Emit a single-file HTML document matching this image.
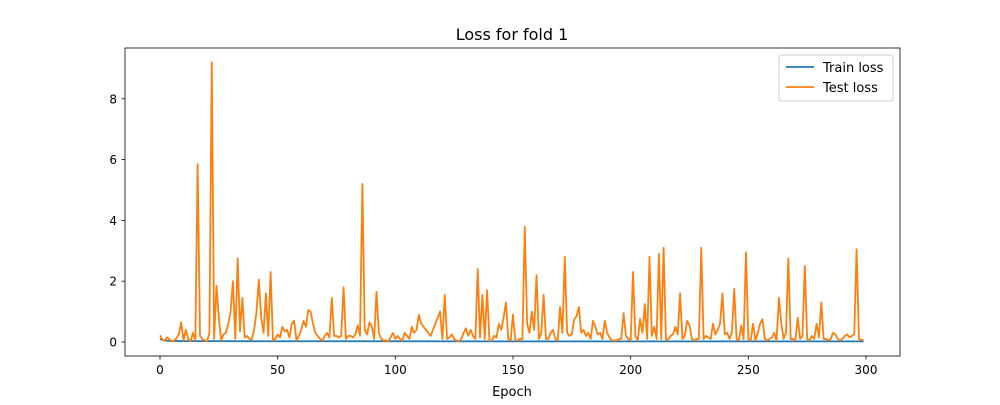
<!DOCTYPE html>
<html><head><meta charset="utf-8"><style>
body{margin:0;background:#fff;font-family:"Liberation Sans","DejaVu Sans",sans-serif}
svg text{font-family:"DejaVu Sans","Liberation Sans",sans-serif;fill:#000}
</style></head><body>
<svg id="chart" width="1000" height="400" xmlns="http://www.w3.org/2000/svg">
<rect width="1000" height="400" fill="#fff"/>
<text x="512" y="40" font-size="16" text-anchor="middle">Loss for fold 1</text>
<g id="plot"></g>
<rect x="125" y="48" width="775" height="308" fill="none" stroke="#000" stroke-width="0.8"/>
<text x="512" y="396" font-size="13" text-anchor="middle">Epoch</text>
<g>
<rect x="779" y="55" width="114" height="46" rx="3" fill="#fff" stroke="#ccc" stroke-width="1"/>
<line x1="786" y1="67" x2="814" y2="67" stroke="#1f77b4" stroke-width="1.8"/>
<text x="823" y="72" font-size="13">Train loss</text>
<line x1="786" y1="87" x2="814" y2="87" stroke="#ff7f0e" stroke-width="1.8"/>
<text x="823" y="92" font-size="13">Test loss</text>
</g>
</svg>
<script>
const xTicks=[0,50,100,150,200,250,300];
const yTicks=[0,2,4,6,8];
const trainEpochs=[0,1,2,3,5,10,20,40,80,150,220,299];
const trainLoss=[0.1,0.07,0.05,0.04,0.035,0.03,0.03,0.025,0.025,0.02,0.02,0.02];
const testLoss=[
0.22,0.08,0.05,0.15,0.1,0.02,0.05,0.12,0.25,0.65,
0.05,0.4,0.1,0.02,0.3,0.05,5.85,0.2,0.1,0.05,
0.02,0.3,9.2,0.1,1.85,0.8,0.05,0.25,0.3,0.6,
1.0,2.0,0.1,2.75,0.35,1.45,0.15,0.2,0.1,0.08,
0.4,1.0,2.05,0.8,0.3,1.6,0.2,2.3,0.05,0.1,
0.25,0.15,0.5,0.35,0.4,0.15,0.6,0.7,0.05,0.2,
0.4,0.7,0.5,1.05,1.0,0.6,0.3,0.2,0.1,0.05,
0.2,0.3,0.15,1.45,0.2,0.2,0.15,0.2,1.8,0.1,
0.2,0.2,0.15,0.25,0.55,0.2,5.2,0.4,0.25,0.65,
0.5,0.1,1.65,0.3,0.1,0.05,0.05,0.02,0.15,0.3,
0.1,0.2,0.1,0.05,0.3,0.2,0.1,0.5,0.3,0.4,
0.9,0.6,0.5,0.4,0.3,0.2,0.4,0.6,0.8,1.0,
0.1,1.55,0.1,0.15,0.25,0.1,0.05,0.02,0.1,0.3,
0.45,0.2,0.4,0.2,0.1,2.4,0.15,1.55,0.1,1.7,
0.05,0.05,0.2,0.15,0.6,0.4,0.8,1.3,0.1,0.05,
0.9,0.05,0.05,0.1,0.1,3.8,0.6,0.3,1.0,0.4,
2.2,0.1,0.3,1.55,0.1,0.1,0.3,0.4,0.1,0.05,
1.15,0.3,2.8,0.3,0.2,0.25,0.75,0.85,1.15,0.3,
0.4,0.2,0.3,0.1,0.7,0.5,0.25,0.3,0.1,0.7,
0.3,0.15,0.05,0.05,0.05,0.1,0.1,0.95,0.2,0.1,
0.05,2.3,0.2,0.05,0.75,0.3,1.25,0.1,2.8,0.2,
0.5,0.1,2.9,0.1,3.1,0.05,0.1,0.2,0.25,0.5,
0.25,1.6,0.1,0.2,0.7,0.55,0.1,0.05,0.1,0.1,
3.1,0.1,0.2,0.15,0.1,0.6,0.25,0.4,0.6,1.6,
0.25,0.3,0.1,0.3,1.75,0.1,0.05,0.55,0.1,2.95,
0.1,0.05,0.6,0.05,0.3,0.6,0.75,0.1,0.05,0.1,
0.15,0.3,0.05,1.45,0.6,0.1,0.3,2.75,0.1,0.1,
0.05,0.8,0.1,0.2,2.5,0.1,0.05,0.2,0.1,0.6,
0.15,1.3,0.1,0.1,0.05,0.1,0.3,0.25,0.1,0.05,
0.1,0.2,0.25,0.15,0.2,0.25,3.05,0.1,0.08,0.05];
const NS="http://www.w3.org/2000/svg";
const X0=160,X1=866,Y0=342,PPU=30.4;
function xs(v){return X0+(X1-X0)*v/300;}
function ys(v){return Y0-v*PPU;}
const g=document.getElementById('plot');
function mk(t,a){const e=document.createElementNS(NS,t);for(const k in a)e.setAttribute(k,a[k]);g.appendChild(e);return e;}
xTicks.forEach(t=>{
  const l=mk('line',{x1:xs(t),x2:xs(t),y1:356,y2:359.5,stroke:'#000','stroke-width':0.8});
  
  
  const tx=mk('text',{x:xs(t),y:374,'font-size':12,'text-anchor':'middle'});tx.textContent=t;
  
  
});
yTicks.forEach(t=>{
  const l=mk('line',{x1:121.5,x2:125,y1:ys(t),y2:ys(t),stroke:'#000','stroke-width':0.8});
  
  
  const tx=mk('text',{x:117,y:ys(t)+4.5,'font-size':12,'text-anchor':'end'});tx.textContent=t;
  
  
});
const tr=mk('polyline',{points:trainEpochs.map((e,i)=>xs(e)+','+ys(trainLoss[i])).join(' '),fill:'none',stroke:'#1f77b4','stroke-width':1.8});


const te=mk('polyline',{points:testLoss.map((v,i)=>xs(i)+','+ys(v)).join(' '),fill:'none',stroke:'#ff7f0e','stroke-width':1.8,'stroke-linejoin':'round'});


</script>
</body></html>
